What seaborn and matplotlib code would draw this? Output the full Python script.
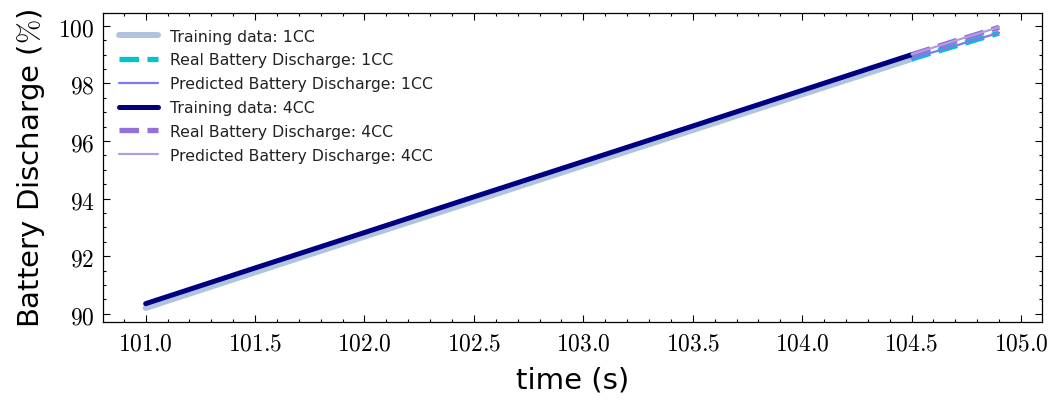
import numpy as np
import pandas as pd
import matplotlib
matplotlib.use("Agg")
import matplotlib.pyplot as plt
import seaborn as sns
from matplotlib.ticker import MultipleLocator, FuncFormatter

# ---- data ----
train_time = [101.0, 101.5, 102.0, 102.5, 103.0, 103.5, 104.0, 104.5]
train_1cc = [90.20, 91.44, 92.68, 93.91, 95.15, 96.38, 97.62, 98.85]
train_4cc = [90.35, 91.59, 92.82, 94.06, 95.29, 96.52, 97.76, 99.00]

pred_time = [104.5, 104.6, 104.7, 104.8, 104.9]
real_1cc = [98.85, 99.08, 99.30, 99.53, 99.75]
pred_1cc = [98.86, 99.09, 99.31, 99.54, 99.76]
real_4cc = [99.00, 99.24, 99.48, 99.71, 99.95]
pred_4cc = [99.01, 99.25, 99.49, 99.72, 99.96]

sns.set_theme(style="ticks")
plt.rcParams["font.family"] = ["DejaVu Sans"]
plt.rcParams["mathtext.fontset"] = "cm"
plt.rcParams["text.color"] = "black"
plt.rcParams["axes.labelcolor"] = "black"
plt.rcParams["xtick.color"] = "black"
plt.rcParams["ytick.color"] = "black"

fig = plt.figure(figsize=(10.54, 4.06), dpi=100)
ax = fig.add_axes([0.0977, 0.2044, 0.8907, 0.7611])

sns.lineplot(x=train_time, y=train_1cc, ax=ax, color="#B0C4DE", lw=4.3,
             label="Training data: 1CC")
sns.lineplot(x=pred_time, y=real_1cc, ax=ax, color="#00C4C8", lw=3.8,
             linestyle="--", label="Real Battery Discharge: 1CC")
sns.lineplot(x=pred_time, y=pred_1cc, ax=ax, color="#7B7BF5", lw=1.6,
             label="Predicted Battery Discharge: 1CC")
sns.lineplot(x=train_time, y=train_4cc, ax=ax, color="#000080", lw=3.6,
             label="Training data: 4CC")
sns.lineplot(x=pred_time, y=real_4cc, ax=ax, color="#9370DB", lw=3.8,
             linestyle="--", label="Real Battery Discharge: 4CC")
sns.lineplot(x=pred_time, y=pred_4cc, ax=ax, color="#B39DD6", lw=1.6,
             label="Predicted Battery Discharge: 4CC")

ax.xaxis.set_major_locator(MultipleLocator(0.5))
ax.xaxis.set_minor_locator(MultipleLocator(0.1))
ax.yaxis.set_major_locator(MultipleLocator(2))
ax.yaxis.set_minor_locator(MultipleLocator(0.5))
ax.xaxis.set_major_formatter(FuncFormatter(lambda v, p: f"${v:.1f}$"))
ax.yaxis.set_major_formatter(FuncFormatter(lambda v, p: f"${v:.0f}$"))

ax.tick_params(which="both", direction="in", top=True, right=True,
               width=0.8, colors="black")
ax.tick_params(which="major", length=5, labelsize=17, pad=6)
ax.tick_params(which="minor", length=2.5)
for s in ax.spines.values():
    s.set_linewidth(0.9)
    s.set_color("black")

ax.set_xlabel("time (s)", fontsize=21, labelpad=8)
ax.set_ylabel(r"Battery Discharge ($\%$)", fontsize=21, labelpad=8)

leg = ax.legend(loc="upper left", frameon=False, fontsize=11.3,
                handlelength=2.5, labelspacing=0.56, borderaxespad=0.6)
for t in leg.get_texts():
    t.set_color("#222222")

fig.savefig("out.png", dpi=100)
